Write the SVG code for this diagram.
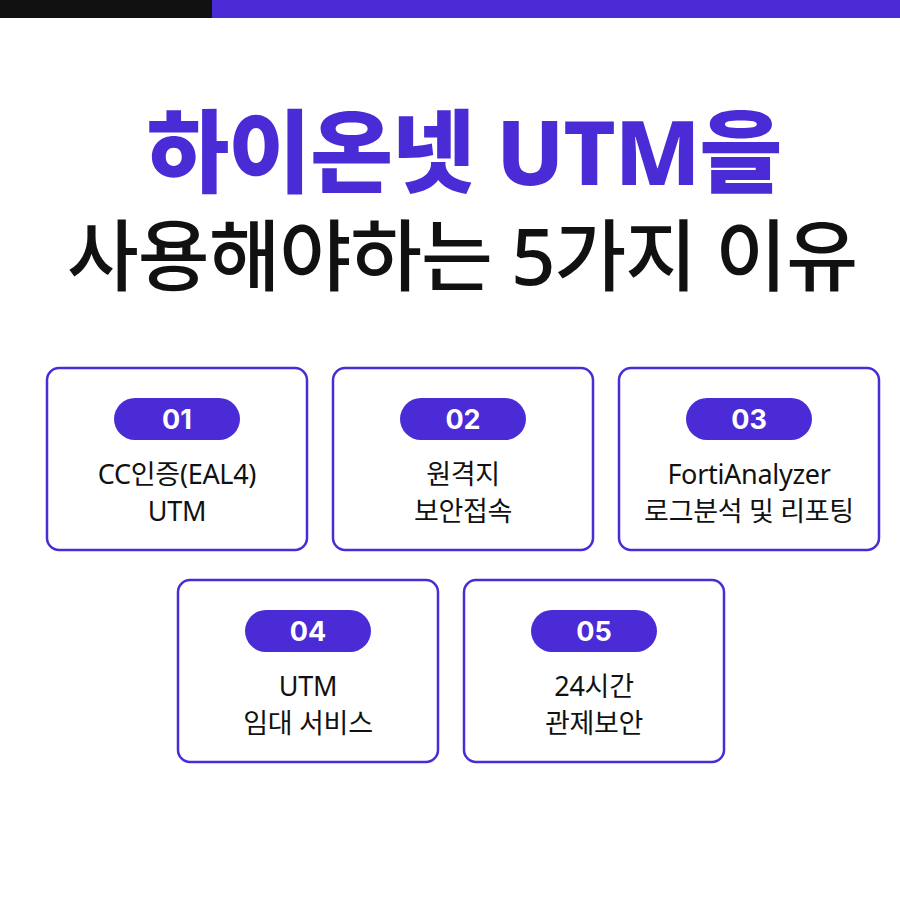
<svg xmlns="http://www.w3.org/2000/svg" width="900" height="900" viewBox="0 0 900 900">
<style>
.card{fill:#fff;stroke:#4b2bd6;stroke-width:2.5}
.pill{fill:#4b2bd6}
.num{font-family:"Inter","Noto Sans",sans-serif;font-weight:700;font-size:27px;fill:#fff;text-anchor:middle}
.lbl{font-family:"Noto Sans","Noto Sans CJK KR",sans-serif;font-size:27px;fill:#111;text-anchor:middle;letter-spacing:-0.3px}
.t{font-family:"Noto Sans","Noto Sans CJK KR",sans-serif;text-anchor:middle;letter-spacing:-1px}
</style>
<rect width="900" height="900" fill="#fff"/>
<rect x="0" y="0" width="212" height="18" fill="#111"/>
<rect x="212" y="0" width="688" height="18" fill="#4b2bd6"/>
<text class="t" x="464" y="185" font-size="90" font-weight="800" fill="#4b2bd6">하이온넷 UTM을</text>
<text class="t" x="462" y="285" font-size="78" font-weight="500" fill="#111">사용해야하는 5가지 이유</text>
<g id="c1"><rect class="card" x="47" y="368" width="260" height="182" rx="12"/><rect class="pill" x="114" y="398" width="126" height="42" rx="21"/><text class="num" x="177" y="429">01</text><text class="lbl" x="177" y="484">CC인증(EAL4)</text><text class="lbl" x="177" y="521">UTM</text></g>
<g id="c2"><rect class="card" x="333" y="368" width="260" height="182" rx="12"/><rect class="pill" x="400" y="398" width="126" height="42" rx="21"/><text class="num" x="463" y="429">02</text><text class="lbl" x="463" y="484">원격지</text><text class="lbl" x="463" y="521">보안접속</text></g>
<g id="c3"><rect class="card" x="619" y="368" width="260" height="182" rx="12"/><rect class="pill" x="686" y="398" width="126" height="42" rx="21"/><text class="num" x="749" y="429">03</text><text class="lbl" x="749" y="484">FortiAnalyzer</text><text class="lbl" x="749" y="521">로그분석 및 리포팅</text></g>
<g id="c4"><rect class="card" x="178" y="580" width="260" height="182" rx="12"/><rect class="pill" x="245" y="610" width="126" height="42" rx="21"/><text class="num" x="308" y="641">04</text><text class="lbl" x="308" y="696">UTM</text><text class="lbl" x="308" y="733">임대 서비스</text></g>
<g id="c5"><rect class="card" x="464" y="580" width="260" height="182" rx="12"/><rect class="pill" x="531" y="610" width="126" height="42" rx="21"/><text class="num" x="594" y="641">05</text><text class="lbl" x="594" y="696">24시간</text><text class="lbl" x="594" y="733">관제보안</text></g>
<g id="connectors"/>
</svg>
